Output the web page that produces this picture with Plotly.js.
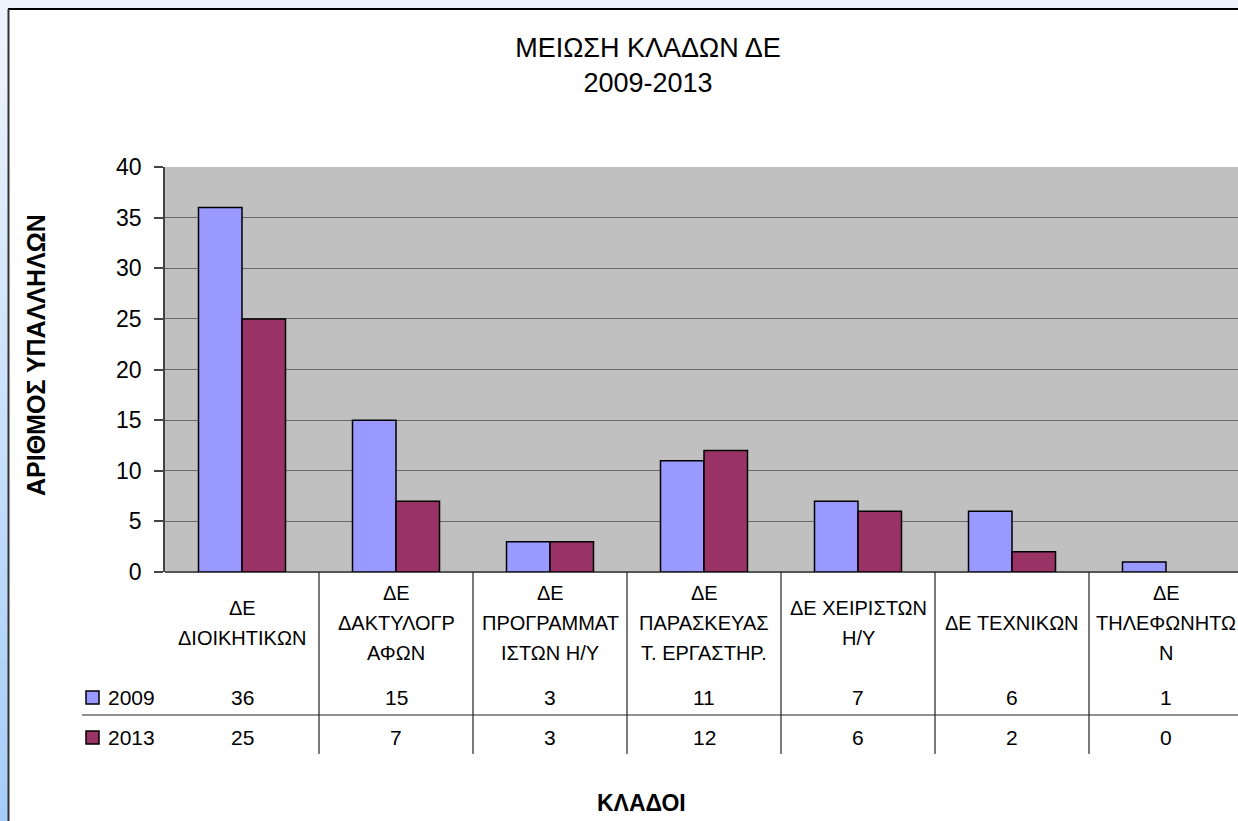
<!DOCTYPE html>
<html><head><meta charset="utf-8">
<script src="https://cdn.plot.ly/plotly-3.0.1.min.js"></script>
<style>html,body{margin:0;padding:0;background:#fff;overflow:hidden;} #chart{width:1238px;height:821px;}</style>
</head><body><div id="chart"></div>
<script>
// ---- data ----
const categories = [
  "ΔΕ<br>ΔΙΟΙΚΗΤΙΚΩΝ",
  "ΔΕ<br>ΔΑΚΤΥΛΟΓΡ<br>ΑΦΩΝ",
  "ΔΕ<br>ΠΡΟΓΡΑΜΜΑΤ<br>ΙΣΤΩΝ Η/Υ",
  "ΔΕ<br>ΠΑΡΑΣΚΕΥΑΣ<br>Τ. ΕΡΓΑΣΤΗΡ.",
  "ΔΕ ΧΕΙΡΙΣΤΩΝ<br>Η/Υ",
  "ΔΕ ΤΕΧΝΙΚΩΝ",
  "ΔΕ<br>ΤΗΛΕΦΩΝΗΤΩ<br>Ν"
];
const seriesNames = ["2009", "2013"];
const values2009 = [36, 15, 3, 11, 7, 6, 1];
const values2013 = [25, 7, 3, 12, 6, 2, 0];
const yTickVals = [0, 5, 10, 15, 20, 25, 30, 35, 40];
const chartTitle = "ΜΕΙΩΣΗ ΚΛΑΔΩΝ ΔΕ<br>2009-2013";
const yTitle = "ΑΡΙΘΜΟΣ ΥΠΑΛΛΗΛΩΝ";
const xTitle = "ΚΛΑΔΟΙ";

// ---- geometry helpers (pixel -> paper) ----
const W = 1238, H = 821;
const L = 165, T = 167, B = 572;
const px = x => (x - L) / (W - L);
const py = y => (B - y) / (B - T);

const FONT = "Liberation Sans, Arial, sans-serif";
const colors = ["#9999FF", "#993366"];

const traces = [values2009, values2013].map((vals, i) => ({
  type: "bar",
  name: seriesNames[i],
  x: categories,
  y: vals,
  marker: {color: colors[i], line: {color: "#000", width: vals.map(v => v === 0 ? 0 : 1.5)}},
  hoverinfo: "x+y+name"
}));

const shapes = [];
// top strip
shapes.push({type: "rect", xref: "paper", yref: "paper", x0: px(0), x1: px(W), y0: py(0), y1: py(8),
  fillcolor: "#eef4fd", line: {width: 0}, layer: "above"});
// left gradient strip
const nStrips = 60;
const cTop = [238, 244, 253], cBot = [166, 205, 248];
for (let i = 0; i < nStrips; i++) {
  const y0 = 8 + (H - 8) * i / nStrips, y1 = 8 + (H - 8) * (i + 1) / nStrips + 0.5;
  const t = i / (nStrips - 1);
  const c = cTop.map((a, k) => Math.round(a + (cBot[k] - a) * t));
  shapes.push({type: "rect", xref: "paper", yref: "paper", x0: px(0), x1: px(8), y0: py(y0), y1: py(y1),
    fillcolor: `rgb(${c.join(",")})`, line: {width: 0}, layer: "above"});
}
// outer frame border
shapes.push({type: "line", xref: "paper", yref: "paper", x0: px(8), x1: px(W + 5), y0: py(9), y1: py(9),
  line: {color: "#000", width: 2}, layer: "above"});
shapes.push({type: "line", xref: "paper", yref: "paper", x0: px(8.5), x1: px(8.5), y0: py(9), y1: py(H + 5),
  line: {color: "#333", width: 2}, layer: "above"});
// data table lines
shapes.push({type: "line", xref: "paper", yref: "paper", x0: px(82), x1: px(W + 5), y0: py(715), y1: py(715),
  line: {color: "#222", width: 1.2}});
for (let k = 0; k < categories.length - 1; k++) {
  shapes.push({type: "line", xref: "x", yref: "paper", x0: k + 0.5, x1: k + 0.5, y0: py(572), y1: py(754),
    line: {color: "#222", width: 1.2}});
}
// legend keys in table
const rowY = [697, 737];
rowY.forEach((ry, i) => {
  shapes.push({type: "rect", xref: "paper", yref: "paper", x0: px(86), x1: px(99), y0: py(ry - 6), y1: py(ry + 7),
    fillcolor: colors[i], line: {color: "#000", width: 1.5}});
});

const annotations = [];
// y title
annotations.push({text: yTitle, xref: "paper", yref: "paper", x: px(36), y: py(355), textangle: -90,
  showarrow: false, xanchor: "center", yanchor: "middle",
  font: {family: FONT, size: 25, color: "#000", weight: 700}});
// x title
annotations.push({text: xTitle, xref: "paper", yref: "paper", x: px(641), y: py(803),
  showarrow: false, xanchor: "center", yanchor: "middle",
  font: {family: FONT, size: 23, color: "#000", weight: 700}});
// category labels (one annotation per line for Excel-like spacing)
categories.forEach((cat, k) => {
  const lines = cat.split("<br>");
  lines.forEach((ln, j) => {
    const yy = 623 + (j - (lines.length - 1) / 2) * 30;
    annotations.push({text: ln, xref: "x", yref: "paper", x: k, y: py(yy), showarrow: false,
      xanchor: "center", yanchor: "middle", font: {family: FONT, size: 20, color: "#000"}});
  });
});
// table rows
[values2009, values2013].forEach((vals, i) => {
  annotations.push({text: seriesNames[i], xref: "paper", yref: "paper", x: px(106), y: py(rowY[i]),
    showarrow: false, xanchor: "left", yanchor: "middle", font: {family: FONT, size: 21, color: "#000"}});
  vals.forEach((v, k) => {
    annotations.push({text: String(v), xref: "x", yref: "paper", x: k, y: py(rowY[i]),
      showarrow: false, xanchor: "center", yanchor: "middle", font: {family: FONT, size: 21, color: "#000"}});
  });
});

const layout = {
  width: W, height: H,
  margin: {l: L, r: 0, t: T, b: H - B, pad: 0},
  paper_bgcolor: "#ffffff",
  plot_bgcolor: "#C0C0C0",
  showlegend: false,
  barmode: "group",
  bargap: 0.435,
  bargroupgap: 0,
  title: {text: chartTitle, x: 648 / W, xref: "container", xanchor: "center",
    y: 1 - 57 / H, yref: "container", yanchor: "middle",
    font: {family: FONT, size: 27, color: "#000"}},
  xaxis: {type: "category", range: [-0.5, categories.length - 0.5 - 5 / 154],
    showticklabels: false, ticks: "", showgrid: false, zeroline: false, showline: false, fixedrange: true},
  yaxis: {range: [0, 40], tickvals: yTickVals, ticks: "outside", ticklen: 9, tickwidth: 1.5, tickcolor: "#444",
    ticklabelstandoff: 8,
    showline: true, linecolor: "#444", linewidth: 1.5,
    showgrid: true, gridcolor: "#6a6a6a", gridwidth: 1,
    zeroline: true, zerolinecolor: "#555", zerolinewidth: 1.5,
    tickfont: {family: FONT, size: 23, color: "#000"}, fixedrange: true},
  shapes: shapes,
  annotations: annotations
};

Plotly.newPlot("chart", traces, layout, {displayModeBar: false, staticPlot: false});
</script>
</body></html>
